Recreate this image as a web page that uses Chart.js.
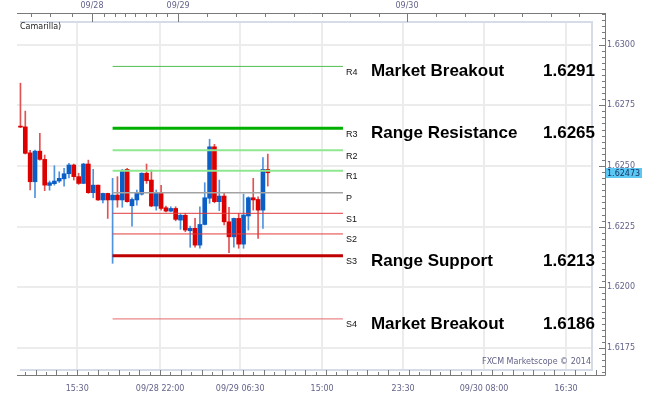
<!DOCTYPE html>
<html>
<head>
<meta charset="utf-8">
<script src="https://cdn.jsdelivr.net/npm/chart.js@4.4.1/dist/chart.umd.min.js"></script>
<style>
  html, body { margin: 0; padding: 0; background: #fff; }
  #wrap { width: 662px; height: 403px; position: relative; }
</style>
</head>
<body>
<div id="wrap"><canvas id="chart"></canvas></div>
<script>
// 30 minute candles
const opens  = [1.62662, 1.62661, 1.62554, 1.62435, 1.62561, 1.62527, 1.62420, 1.62427, 1.62438, 1.62447,
                1.62468, 1.62504, 1.62456, 1.62428, 1.62508, 1.62390, 1.62421, 1.62360, 1.62387, 1.62360,
                1.62380, 1.62360, 1.62486, 1.62336, 1.62360, 1.62384, 1.62470, 1.62442, 1.62335, 1.62390,
                1.62328, 1.62314, 1.62325, 1.62277, 1.62297, 1.62233, 1.62243, 1.62174, 1.62259, 1.62367,
                1.62579, 1.62353, 1.62376, 1.62270, 1.62208, 1.62284, 1.62178, 1.62294, 1.62369, 1.62362,
                1.62318, 1.62486];
const highs  = [1.62841, 1.62726, 1.62564, 1.62565, 1.62634, 1.62545, 1.62438, 1.62501, 1.62476, 1.62490,
                1.62511, 1.62508, 1.62470, 1.62511, 1.62524, 1.62486, 1.62421, 1.62388, 1.62388, 1.62449,
                1.62456, 1.62486, 1.62490, 1.62369, 1.62401, 1.62472, 1.62508, 1.62483, 1.62401, 1.62420,
                1.62335, 1.62332, 1.62332, 1.62302, 1.62305, 1.62252, 1.62284, 1.62332, 1.62431, 1.62610,
                1.62589, 1.62442, 1.62390, 1.62330, 1.62285, 1.62305, 1.62384, 1.62373, 1.62449, 1.62373,
                1.62535, 1.62549];
const lows   = [1.62658, 1.62549, 1.62401, 1.62369, 1.62524, 1.62398, 1.62400, 1.62421, 1.62432, 1.62417,
                1.62451, 1.62442, 1.62424, 1.62427, 1.62387, 1.62369, 1.62358, 1.62348, 1.62284, 1.62099,
                1.62330, 1.62330, 1.62351, 1.62252, 1.62339, 1.62380, 1.62428, 1.62332, 1.62318, 1.62318,
                1.62311, 1.62311, 1.62274, 1.62239, 1.62229, 1.62165, 1.62165, 1.62161, 1.62257, 1.62346,
                1.62348, 1.62316, 1.62257, 1.62143, 1.62165, 1.62161, 1.62161, 1.62236, 1.62318, 1.62202,
                1.62243, 1.62417];
const closes = [1.62660, 1.62552, 1.62435, 1.62561, 1.62527, 1.62421, 1.62431, 1.62438, 1.62449, 1.62468,
                1.62504, 1.62456, 1.62428, 1.62508, 1.62390, 1.62421, 1.62360, 1.62387, 1.62360, 1.62380,
                1.62360, 1.62480, 1.62353, 1.62362, 1.62387, 1.62470, 1.62439, 1.62335, 1.62390, 1.62325,
                1.62314, 1.62325, 1.62280, 1.62297, 1.62236, 1.62243, 1.62174, 1.62259, 1.62369, 1.62579,
                1.62353, 1.62376, 1.62270, 1.62208, 1.62284, 1.62178, 1.62298, 1.62369, 1.62360, 1.62318,
                1.62486, 1.62472];

// camarilla pivot levels
const levelNames  = ["R4", "R3", "R2", "R1", "P", "S1", "S2", "S3", "S4"];
const levelValues = [1.6291, 1.62655, 1.62565, 1.6248, 1.6239, 1.62305, 1.6222, 1.6213, 1.6187];
const levelColors = ["#52bd52", "#00b000", "#8fe88f", "#8fe88f", "#a3a3a3", "#e23b3b", "#e23b3b", "#bf0000", "#e46a6a"];
const levelWidths = [1, 3, 2, 2, 1.5, 1, 1, 3, 1];
const pivotStart = 19;
const pivotEnd = 66.5;

const noteLevels = ["R4", "R3", "S3", "S4"];
const noteTexts  = ["Market Breakout", "Range Resistance", "Range Support", "Market Breakout"];
const noteValues = ["1.6291", "1.6265", "1.6213", "1.6186"];

// axes
const priceTicks = [1.6175, 1.62, 1.6225, 1.625, 1.6275, 1.63];
const timeTickPos = [11.7, 28.8, 45.3, 62.2, 78.9, 95.6, 112.5];
const timeTickLabels = ["15:30", "09/28 22:00", "09/29 06:30", "15:00", "23:30", "09/30 08:00", "16:30"];
const dayTickPos = [14.75, 32.5, 79.7];
const dayTickLabels = ["09/28", "09/29", "09/30"];
const topMinorTicks = [2.2, 6.1, 10.6, 17.2, 19.5, 21.6, 23.6, 25.9, 28.0, 30.2,
                       38.5, 44.4, 50.4, 56.4, 62.2, 68.0, 73.9, 85.7, 91.7, 97.6, 103.4, 109.4, 115.2];
const lastPrice = 1.62473;

const axisFont = { family: "DejaVu Sans", size: 8 };
const axisColor = "#62628a";

const upBody = "#0a5ec6", downBody = "#dc0000";
const upWick = "#4f92de", downWick = "#e25252";

const wickData = opens.map((o, i) => ({ x: i, y: [lows[i], highs[i]] }));
const bodyData = opens.map((o, i) => ({ x: i, y: [Math.min(o, closes[i]), Math.max(o, closes[i])] }));
const isUp = opens.map((o, i) => closes[i] >= o);

const levelSets = levelValues.map((v, i) => ({
  type: "line",
  data: [{ x: pivotStart, y: v }, { x: pivotEnd, y: v }],
  borderColor: levelColors[i],
  borderWidth: levelWidths[i],
  pointRadius: 0,
  order: 0
}));

function line(ctx, x1, y1, x2, y2) {
  ctx.beginPath();
  ctx.moveTo(x1, y1);
  ctx.lineTo(x2, y2);
  ctx.stroke();
}

const decor = {
  id: "decor",
  beforeDatasetsDraw(chart) {
    const { ctx, chartArea: a, scales: { x, y } } = chart;
    const fTop = a.top + 9, fRight = a.right - 13, fBottom = a.bottom - 5;
    ctx.save();
    ctx.strokeStyle = "#ececec";
    ctx.lineWidth = 2;
    priceTicks.forEach(v => {
      const py = Math.round(y.getPixelForValue(v));
      line(ctx, a.left, py, fRight, py);
    });
    timeTickPos.forEach(v => {
      const px = Math.round(x.getPixelForValue(v));
      line(ctx, px, fTop, px, fBottom);
    });
    ctx.strokeStyle = "#d5dce8";
    ctx.lineWidth = 2;
    ctx.beginPath();
    ctx.moveTo(a.left + 3, fTop);
    ctx.lineTo(fRight, fTop);
    ctx.lineTo(fRight, fBottom);
    ctx.lineTo(a.left + 3, fBottom);
    ctx.stroke();
    ctx.restore();
  },
  afterDatasetsDraw(chart) {
    const { ctx, chartArea: a, scales: { x, y } } = chart;
    ctx.save();

    // axis lines
    ctx.strokeStyle = "#7a7a7a";
    ctx.lineWidth = 1;
    line(ctx, a.left, a.top + 0.5, a.right + 0.5, a.top + 0.5);
    line(ctx, a.right + 0.5, a.top, a.right + 0.5, a.bottom + 0.5);
    line(ctx, a.left, a.bottom + 0.5, a.right + 0.5, a.bottom + 0.5);

    // right axis ticks
    const step = 0.00025;
    for (let k = Math.ceil(y.min / step); k <= Math.floor(y.max / step); k++) {
      const py = Math.round(y.getPixelForValue(k * step)) + 0.5;
      const len = k % 10 === 0 ? 6 : 3;
      line(ctx, a.right - len, py, a.right, py);
    }
    // top axis ticks
    topMinorTicks.forEach(v => {
      const px = Math.round(x.getPixelForValue(v)) + 0.5;
      line(ctx, px, a.top, px, a.top + 4);
    });
    dayTickPos.forEach(v => {
      const px = Math.round(x.getPixelForValue(v)) + 0.5;
      line(ctx, px, a.top, px, a.top + 9);
    });
    // bottom axis ticks
    const bStep = (timeTickPos[1] - timeTickPos[0]) / 8;
    for (let k = -6; k <= 60; k++) {
      const v = timeTickPos[0] + k * bStep;
      if (v < x.min || v > x.max) continue;
      const px = Math.round(x.getPixelForValue(v)) + 0.5;
      const len = k % 2 === 0 ? 5 : 3;
      line(ctx, px, a.bottom - len, px, a.bottom);
    }

    // day labels on top
    ctx.font = "8px 'DejaVu Sans'";
    ctx.fillStyle = axisColor;
    ctx.textAlign = "center";
    ctx.textBaseline = "middle";
    dayTickPos.forEach((v, i) => ctx.fillText(dayTickLabels[i], x.getPixelForValue(v), 6));

    // last price box
    const lp = Math.round(y.getPixelForValue(lastPrice));
    ctx.fillStyle = "#5cc7f3";
    ctx.fillRect(a.right + 1, lp - 5, 36, 10);
    ctx.fillStyle = "#13325e";
    ctx.textAlign = "left";
    ctx.fillText(lastPrice.toFixed(5), a.right + 2, lp + 0.5);

    // level names
    const endPx = x.getPixelForValue(pivotEnd);
    ctx.font = "9px 'Liberation Sans'";
    ctx.fillStyle = "#111";
    levelValues.forEach((v, i) => {
      ctx.fillText(levelNames[i], endPx + 3, y.getPixelForValue(v) + 6);
    });

    // big notes
    ctx.font = "bold 17px 'Liberation Sans'";
    ctx.fillStyle = "#000";
    ctx.textBaseline = "alphabetic";
    noteLevels.forEach((n, i) => {
      const v = levelValues[levelNames.indexOf(n)];
      const py = y.getPixelForValue(v) + 10;
      ctx.fillText(noteTexts[i], endPx + 28, py);
      ctx.fillText(noteValues[i], a.right - 62, py);
    });

    // captions
    ctx.font = "8px 'DejaVu Sans'";
    ctx.textBaseline = "middle";
    ctx.fillStyle = "#222";
    ctx.fillText("Camarilla)", a.left + 3, a.top + 14);
    ctx.fillStyle = axisColor;
    ctx.textAlign = "right";
    ctx.fillText("FXCM Marketscope \u00a9 2014", a.right - 14, a.bottom - 13);
    ctx.restore();
  }
};

new Chart(document.getElementById("chart"), {
  type: "bar",
  data: {
    datasets: [
      ...levelSets,
      {
        data: bodyData,
        backgroundColor: isUp.map(u => u ? upBody : downBody),
        barThickness: 4,
        minBarLength: 1,
        grouped: false,
        order: 1
      },
      {
        data: wickData,
        backgroundColor: isUp.map(u => u ? upWick : downWick),
        barThickness: 1,
        grouped: false,
        order: 2
      }
    ]
  },
  options: {
    responsive: true,
    maintainAspectRatio: false,
    animation: false,
    layout: { padding: { left: 17, top: 13, right: 0, bottom: 0 } },
    plugins: { legend: { display: false }, tooltip: { enabled: false } },
    scales: {
      x: {
        type: "linear",
        min: -0.711,
        max: 120.53,
        offset: false,
        grid: { display: false, drawTicks: false, tickLength: 0 },
        border: { display: false },
        afterBuildTicks: s => { s.ticks = timeTickPos.map(v => ({ value: v })); },
        afterFit: s => { s.height = 28; },
        ticks: {
          autoSkip: false,
          maxRotation: 0,
          padding: 9,
          font: axisFont,
          color: axisColor,
          callback: (v, i) => timeTickLabels[i]
        }
      },
      y: {
        type: "linear",
        position: "right",
        min: 1.61639,
        max: 1.6313,
        grid: { display: false, drawTicks: false, tickLength: 0 },
        border: { display: false },
        afterBuildTicks: s => { s.ticks = priceTicks.map(v => ({ value: v })); },
        afterFit: s => { s.width = 57; },
        ticks: {
          autoSkip: false,
          padding: 2,
          font: axisFont,
          color: axisColor,
          callback: v => v.toFixed(4)
        }
      }
    }
  },
  plugins: [decor]
});
</script>
</body>
</html>
